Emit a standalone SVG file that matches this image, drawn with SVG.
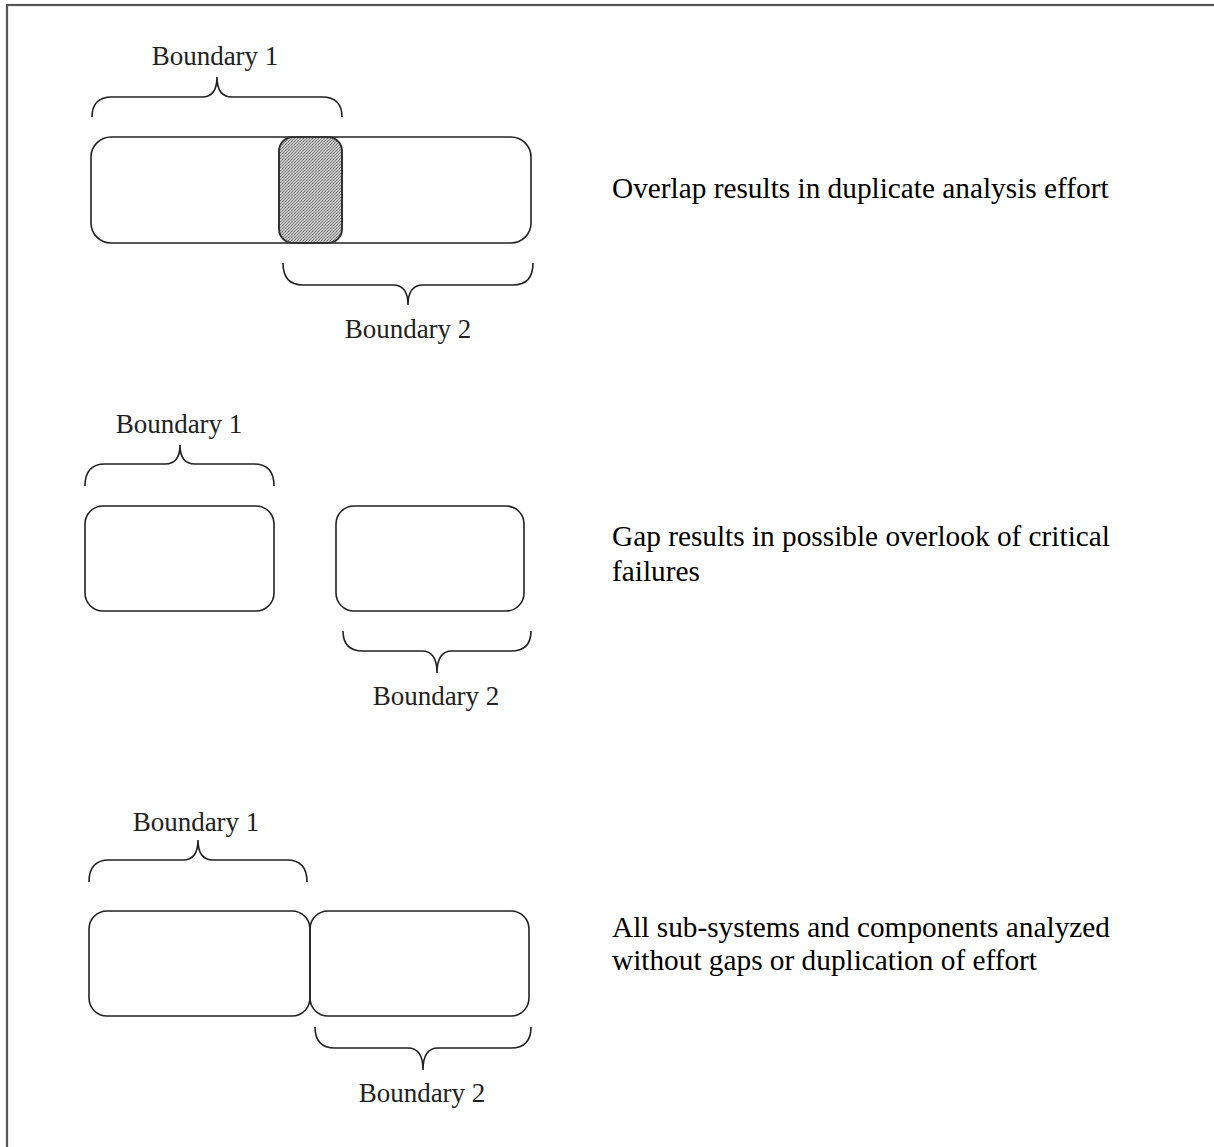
<svg xmlns="http://www.w3.org/2000/svg" width="1214" height="1147" viewBox="0 0 1214 1147">
<defs>
<pattern id="hatch" width="3" height="3" patternUnits="userSpaceOnUse">
<rect width="3" height="3" fill="#c8c8c8"/>
<rect width="1" height="1" fill="#6a6a6a"/>
<rect x="2" y="1" width="1" height="1" fill="#8a8a8a"/>
<rect x="1" y="2" width="1" height="1" fill="#7a7a7a"/>
</pattern>
<style>
.box{fill:none;stroke:#222;stroke-width:1.6}
.brace{fill:none;stroke:#222;stroke-width:1.6}
.lbl{font-family:"Liberation Serif","Times New Roman",serif;font-size:27px;fill:#222;text-anchor:middle}
.desc{font-family:"Liberation Serif","Times New Roman",serif;font-size:29.3px;fill:#000}
</style>
</defs>
<rect x="7" y="5" width="1230" height="1170" fill="#fff" stroke="#555" stroke-width="2.2"/>

<g id="overlap">
<rect class="box" x="91" y="137" width="440" height="106" rx="20" ry="20"/>
<rect x="279" y="137" width="63" height="106" rx="14" ry="14" fill="url(#hatch)" stroke="#333" stroke-width="2"/>
<text class="lbl" x="215" y="65">Boundary 1</text>
<text class="lbl" x="408" y="338">Boundary 2</text>
<text class="desc" x="612" y="198">Overlap results in duplicate analysis effort</text>
</g>

<g id="gap">
<rect class="box" x="85" y="506" width="189" height="105" rx="18" ry="18"/>
<rect class="box" x="336" y="506" width="188" height="105" rx="18" ry="18"/>
<text class="lbl" x="179" y="433">Boundary 1</text>
<text class="lbl" x="436" y="705">Boundary 2</text>
<text class="desc" x="612" y="546">Gap results in possible overlook of critical</text>
<text class="desc" x="612" y="581">failures</text>
</g>

<g id="exact">
<rect class="box" x="89" y="911" width="221" height="105" rx="18" ry="18"/>
<rect class="box" x="310" y="911" width="219" height="105" rx="18" ry="18"/>
<text class="lbl" x="196" y="831">Boundary 1</text>
<text class="lbl" x="422" y="1102">Boundary 2</text>
<text class="desc" x="612" y="937">All sub-systems and components analyzed</text>
<text class="desc" x="612" y="970">without gaps or duplication of effort</text>
</g>

<g id="connectors">
<path class="brace" d="M92 117 Q92 97 112 97 L202 97 Q217 97 217 77 Q217 97 232 97 L322 97 Q342 97 342 117"/>
<path class="brace" d="M283 263 Q283 285 303 285 L393 285 Q408 285 408 305 Q408 285 423 285 L513 285 Q533 285 533 263"/>
<path class="brace" d="M85 486 Q85 464 105 464 L165 464 Q180 464 180 445 Q180 464 195 464 L254 464 Q274 464 274 486"/>
<path class="brace" d="M343 631 Q343 651 363 651 L422 651 Q437 651 437 673 Q437 651 452 651 L511 651 Q531 651 531 631"/>
<path class="brace" d="M89 882 Q89 860 109 860 L183 860 Q198 860 198 840 Q198 860 213 860 L287 860 Q307 860 307 882"/>
<path class="brace" d="M315 1027 Q315 1048 335 1048 L408 1048 Q423 1048 423 1070 Q423 1048 438 1048 L511 1048 Q531 1048 531 1027"/>
</g>
</svg>
